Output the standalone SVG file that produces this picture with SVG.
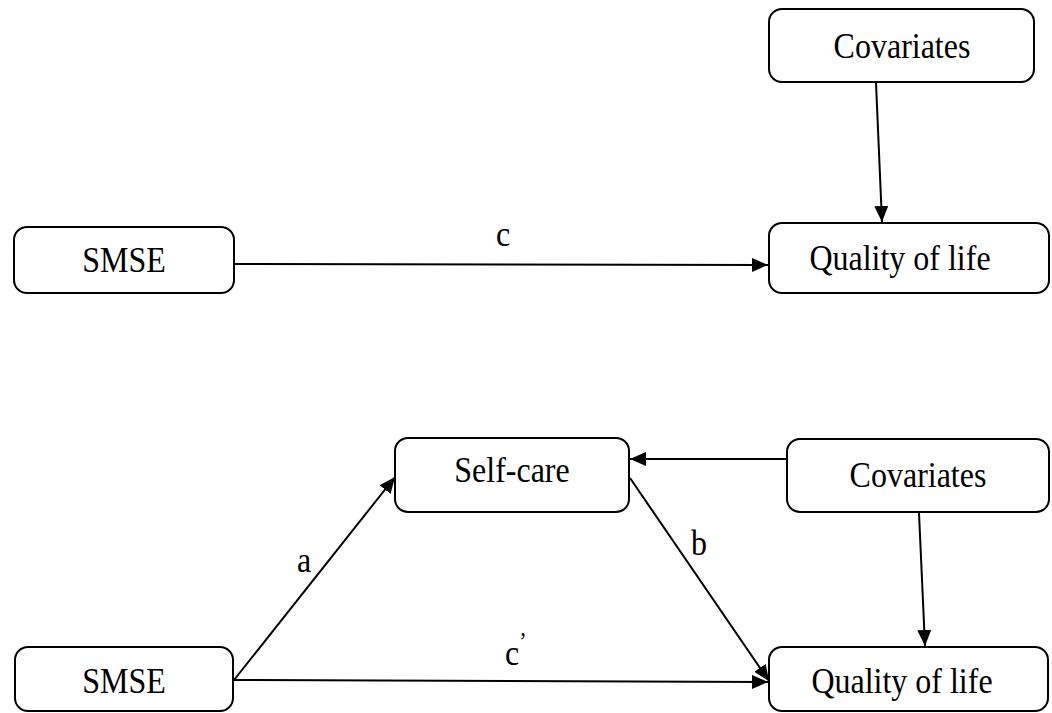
<svg xmlns="http://www.w3.org/2000/svg" width="1052" height="713" viewBox="0 0 1052 713">
<defs>
<marker id="arr" viewBox="0 0 16 14" refX="16" refY="7" markerWidth="16" markerHeight="14" markerUnits="userSpaceOnUse" orient="auto">
<path d="M0,0 L16,7 L0,14 Z" fill="#000"/>
</marker>
<style>
.box{fill:#fff;stroke:#000;stroke-width:2}
.t{font-family:"Liberation Serif","Times New Roman",serif;font-size:32px;fill:#000;text-anchor:middle}
.e{stroke:#000;stroke-width:2;fill:none;marker-end:url(#arr)}
</style>
</defs>
<rect width="1052" height="713" fill="#fff"/>
<g id="connectors">
<line class="e" x1="876" y1="83" x2="882" y2="222"/>
<line class="e" x1="234" y1="264" x2="768" y2="265"/>
<line class="e" x1="787" y1="459" x2="630" y2="459"/>
<line class="e" x1="919" y1="513" x2="925" y2="646"/>
<line class="e" x1="234" y1="680" x2="395" y2="477"/>
<line class="e" x1="630" y1="478" x2="769" y2="681"/>
<line class="e" x1="234" y1="680" x2="768" y2="682"/>
<text class="t" transform="translate(503,246) scale(1,1.1)">c</text>
<text class="t" transform="translate(304,572) scale(1,1.1)">a</text>
<text class="t" transform="translate(699,555) scale(1,1.1)">b</text>
<text class="t" transform="translate(512,665) scale(1,1.1)">c</text>
<text class="t" transform="translate(523,650) scale(1,1.1)" style="font-size:22px">’</text>
</g>
<g id="cov1"><rect class="box" x="769" y="9" width="265" height="73" rx="13"/><text class="t" transform="translate(902,58) scale(1,1.1)">Covariates</text></g>
<g id="smse1"><rect class="box" x="14" y="227" width="220" height="66" rx="13"/><text class="t" transform="translate(124,272) scale(1,1.1)">SMSE</text></g>
<g id="qol1"><rect class="box" x="769" y="223" width="280" height="70" rx="13"/><text class="t" transform="translate(900,270) scale(1,1.1)">Quality of life</text></g>
<g id="selfcare"><rect class="box" x="395" y="438" width="234" height="74" rx="13"/><text class="t" transform="translate(512,482) scale(1,1.1)">Self-care</text></g>
<g id="cov2"><rect class="box" x="787" y="439" width="262" height="73" rx="13"/><text class="t" transform="translate(918,487) scale(1,1.1)">Covariates</text></g>
<g id="smse2"><rect class="box" x="15" y="647" width="218" height="64" rx="13"/><text class="t" transform="translate(124,693) scale(1,1.1)">SMSE</text></g>
<g id="qol2"><rect class="box" x="769" y="647" width="279" height="64" rx="13"/><text class="t" transform="translate(902,693) scale(1,1.1)">Quality of life</text></g>
</svg>
